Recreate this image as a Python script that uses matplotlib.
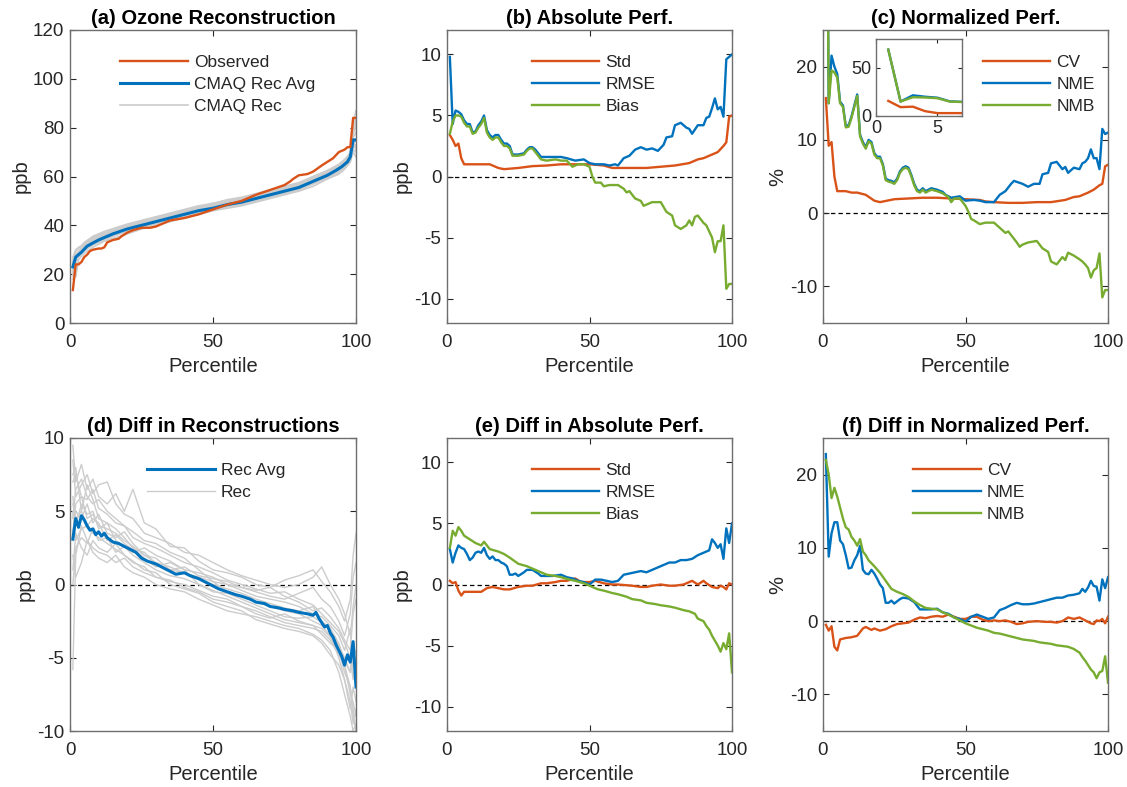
import numpy as np
import matplotlib
matplotlib.use("Agg")
import matplotlib.pyplot as plt

plt.rcParams['font.family'] = ['Liberation Sans', 'DejaVu Sans']
plt.rcParams['axes.unicode_minus'] = False

ORANGE = '#D95319'
BLUE = '#0072BD'
GREEN = '#77AC30'
GRAY = '#CCCCCC'
AX = '#262626'

# ---- (a) ozone reconstruction ----
obs_x = [1, 2, 3, 4, 5, 6, 7, 8, 10, 11, 12, 13, 15, 17, 18, 20, 22, 25, 28, 30, 32, 35,
         40, 45, 50, 55, 60, 65, 70, 75, 77, 78, 80, 83, 85, 88, 90, 92, 94, 96, 97, 98, 99, 100]
obs_y = [13.5, 24, 24, 25, 27, 28, 29.5, 30, 30.5, 30.5, 31, 33, 34, 34.5, 35.5, 37, 38, 39, 39, 39.5, 40.5, 42,
         43, 44.5, 46.5, 48.5, 50, 52.5, 54.5, 56.5, 58, 59, 60.5, 61, 62, 64.5, 66, 67.5, 70, 71, 72, 72, 84, 84]
avg_x = [1, 2, 4, 6, 10, 15, 20, 25, 30, 35, 40, 45, 50, 55, 60, 65, 70, 75, 80, 85, 90, 93, 95, 97, 98, 99, 100]
avg_y = [23, 27, 29, 31.5, 34, 36.5, 38.5, 40, 41.5, 43, 44.5, 46, 47, 48.5, 49.5, 51, 52.5, 54, 55.5, 58, 60.5,
         62.5, 64, 66, 68, 75, 75]
rec_x = [1, 2, 3, 5, 8, 12, 16, 20, 25, 30, 35, 40, 45, 50, 55, 60, 65, 70, 75, 80, 85, 90, 94, 96, 98, 99, 100]
rec_lines = [
    [18, 19, 26, 28.5, 31, 33.5, 35, 36.5, 38.5, 40, 41.5, 43, 44.5, 46, 47, 48, 49.5, 51, 52.5, 54, 56, 59, 61,
     63, 66, 70, 68],
    [25, 29.5, 30.5, 33, 35.5, 37.5, 39, 40.5, 42, 43.5, 45, 46.5, 48, 49, 50.5, 51.5, 53, 54.5, 56, 57.5, 60,
     62.5, 65, 67, 69.5, 82, 87],
    [22, 26, 28.5, 31, 33.5, 35.5, 37.5, 39, 40.5, 42, 43.5, 45, 46.5, 47.5, 49, 50, 51.5, 53, 54.5, 56, 58.5,
     61, 63, 65, 67.5, 76, 78],
    [24, 28, 29, 30, 32, 34, 36, 37.5, 39, 40.5, 42, 43.5, 45, 46.5, 47.5, 48.5, 50, 51.5, 53, 54.5, 57, 59.5,
     61.5, 63.5, 66, 72, 73],
    [21, 27, 28, 32, 34.5, 36.5, 38.5, 40, 41.5, 43, 44.5, 46, 47.5, 48.5, 49.5, 50.5, 52, 53.5, 55, 56.5, 59,
     61.5, 64, 66, 70, 78, 80],
    [26, 28, 29.5, 31, 33, 35, 37, 38.5, 40, 41.5, 43, 44.5, 46, 47.5, 48.5, 49.5, 51, 52.5, 54, 55.5, 58, 60.5,
     63, 65, 67, 73, 75],
    [20, 25, 27, 29.5, 32, 34.5, 36, 37.5, 39.5, 41, 42.5, 44, 45.5, 46.5, 48, 49, 50.5, 52, 53.5, 55, 57, 59.5,
     62, 64, 68, 74, 71],
    [23, 28, 29, 32.5, 35, 37, 38.5, 40, 41.5, 43, 44.5, 46, 47.5, 49, 50, 51, 52.5, 54, 55.5, 57, 59.5, 62,
     64.5, 66.5, 68.5, 80, 84],
    [19, 24, 28, 30, 33, 35, 37, 39, 40.5, 42, 43.5, 45.5, 47, 48, 49.5, 50.5, 52, 53, 54.5, 56, 58, 60.5, 62.5,
     64, 67, 71, 70],
    [27, 30, 31, 32, 34, 36, 38, 39.5, 41, 42.5, 44, 45.5, 47, 48.5, 49.5, 51, 52.5, 54, 55.5, 57, 59, 61.5, 64,
     65.5, 68, 77, 82],
]

# ---- (b) absolute performance ----
std_x = [1, 2, 3, 4, 5, 6, 8, 10, 15, 18, 20, 25, 30, 35, 40, 45, 50, 55, 58, 60, 65, 70, 75, 80, 85, 88,
         90, 93, 95, 97, 98, 99, 100]
std_y = [3.4, 3.0, 2.5, 2.7, 1.5, 1.0, 1.0, 1.0, 1.0, 0.7, 0.6, 0.7, 0.85, 0.9, 1.0, 1.0, 1.0, 0.9, 0.7, 0.7,
         0.7, 0.7, 0.8, 0.9, 1.1, 1.4, 1.5, 1.8, 2.0, 2.5, 2.8, 4.9, 5.0]
rmse_x = [1, 2, 3, 4, 5, 6, 7, 8, 9, 10, 11, 12, 13, 14, 15, 16, 17, 18, 19, 20, 21, 22, 23, 25, 27, 28, 29,
          30, 31, 33, 35, 38, 40, 42, 45, 48, 50, 52, 55, 57, 59, 60, 62, 64, 66, 68, 70, 72, 74, 76, 77, 79,
          80, 82, 84, 85, 86, 88, 90, 91, 92, 93, 94, 95, 96, 97, 98, 99, 100]
rmse_y = [9.8, 4.3, 5.4, 5.3, 5.1, 4.6, 4.3, 4.3, 3.6, 3.7, 4.2, 4.5, 5.0, 3.8, 3.4, 3.2, 3.4, 3.4, 3.0, 2.7,
          2.7, 2.5, 1.8, 1.8, 1.9, 2.2, 2.4, 2.4, 2.2, 1.6, 1.6, 1.6, 1.6, 1.5, 1.3, 1.4, 1.1, 1.0, 1.0, 0.9,
          1.0, 0.9, 1.5, 1.7, 2.2, 2.4, 2.2, 2.3, 2.1, 2.6, 3.2, 3.3, 4.2, 4.4, 4.0, 3.9, 3.5, 4.2, 4.2, 4.8,
          4.9, 5.6, 6.4, 5.5, 5.7, 4.9, 9.6, 9.8, 10.0]
bias_x = [1, 2, 3, 4, 5, 6, 7, 8, 9, 10, 11, 12, 13, 14, 15, 16, 17, 18, 19, 20, 21, 22, 23, 25, 27, 28, 29,
          30, 31, 33, 35, 38, 40, 42, 44, 46, 48, 50, 51, 52, 54, 55, 57, 60, 62, 63, 64, 66, 68, 69, 70, 72,
          75, 77, 79, 80, 82, 84, 85, 86, 87, 88, 90, 91, 92, 93, 94, 95, 96, 97, 98, 99, 100]
bias_y = [3.5, 4.5, 5.0, 5.0, 4.9, 4.4, 4.1, 4.1, 3.5, 3.6, 4.0, 4.3, 4.8, 3.6, 3.2, 3.0, 3.2, 3.2, 2.8, 2.5,
          2.5, 2.3, 1.7, 1.7, 1.8, 2.1, 2.3, 2.3, 2.0, 1.4, 1.3, 1.4, 1.3, 1.3, 0.8, 1.0, 1.0, 0.8, 0.0, -0.5,
          -0.5, -0.8, -0.7, -0.7, -1.0, -1.3, -1.2, -1.8, -2.0, -2.4, -2.3, -2.1, -2.1, -2.9, -3.2, -4.0, -4.3,
          -4.0, -3.6, -4.0, -3.3, -3.2, -3.8, -4.0, -4.5, -5.0, -6.2, -5.3, -5.3, -4.0, -9.2, -8.8, -8.8]

# ---- (c) normalized performance ----
cv_x = [1, 2, 3, 4, 5, 8, 10, 12, 15, 18, 20, 25, 30, 35, 40, 45, 50, 55, 57, 60, 65, 70, 75, 80, 85, 88, 90,
        93, 95, 97, 98, 99, 100]
cv_y = [15.7, 9.2, 9.7, 5.0, 3.0, 3.0, 2.8, 2.8, 2.5, 1.7, 1.5, 1.9, 2.0, 2.1, 2.1, 2.0, 1.9, 1.8, 1.6, 1.5,
        1.4, 1.4, 1.5, 1.5, 1.8, 2.2, 2.3, 2.8, 3.2, 3.8, 4.0, 6.4, 6.6]
nme_x = [1, 2, 3, 4, 5, 6, 7, 8, 9, 10, 11, 12, 13, 14, 15, 16, 17, 18, 19, 20, 21, 22, 23, 24, 25, 26, 27,
         28, 29, 30, 31, 32, 33, 34, 35, 36, 38, 40, 42, 43, 45, 48, 50, 53, 55, 57, 60, 62, 64, 66, 67, 70,
         72, 74, 76, 77, 79, 80, 82, 84, 85, 86, 88, 90, 91, 92, 93, 94, 95, 96, 97, 98, 99, 100]
nme_y = [69, 15, 21.5, 20, 19, 15.2, 14.7, 11.9, 12.0, 13.2, 14.7, 16.2, 10.7, 9.7, 9.0, 10.0, 9.7, 8.2, 7.7,
         7.7, 6.7, 4.7, 4.5, 4.4, 4.2, 4.7, 5.7, 6.2, 6.4, 6.2, 5.2, 4.0, 3.2, 3.0, 3.4, 3.0, 3.4, 3.2, 2.9,
         2.5, 2.1, 2.3, 1.7, 1.8, 1.7, 1.5, 1.5, 2.5, 3.0, 4.0, 4.4, 4.0, 3.6, 4.0, 4.0, 5.3, 5.5, 6.8, 7.0,
         6.0, 6.3, 5.5, 6.2, 6.0, 6.8, 7.0, 7.5, 8.7, 7.5, 7.5, 6.0, 11.5, 10.8, 11.0]
nmb_x = [1, 2, 3, 4, 5, 6, 7, 8, 9, 10, 11, 12, 13, 14, 15, 16, 17, 18, 19, 20, 21, 22, 23, 24, 25, 26, 27,
         28, 29, 30, 31, 32, 33, 34, 35, 36, 38, 40, 42, 44, 45, 46, 48, 50, 51, 52, 53, 55, 57, 60, 62, 64,
         65, 67, 68, 69, 70, 72, 75, 77, 79, 80, 82, 84, 85, 86, 88, 90, 91, 92, 93, 94, 95, 96, 97, 98, 99, 100]
nmb_y = [69, 15, 19.5, 19.2, 18.5, 15, 14.5, 11.7, 11.8, 13, 14.5, 16, 10.5, 9.5, 8.8, 9.8, 9.5, 8.0, 7.5,
         7.5, 6.5, 4.5, 4.3, 4.2, 4.0, 4.5, 5.5, 6.0, 6.2, 6.0, 5.0, 3.8, 3.0, 2.8, 3.2, 2.8, 3.2, 3.0, 2.7,
         2.2, 1.5, 2.0, 2.0, 1.0, 0.2, -0.8, -1.0, -1.5, -1.3, -1.3, -2.0, -2.7, -2.5, -3.5, -4.0, -4.6, -4.3,
         -4.0, -3.8, -4.8, -5.3, -6.6, -7.0, -6.0, -6.4, -5.4, -5.8, -6.3, -6.6, -7.0, -7.5, -8.8, -7.8, -7.5,
         -5.5, -11.5, -10.5, -10.5]

# ---- (d) diff in reconstructions ----
davg_x = [1, 2, 3, 4, 5, 6, 7, 8, 9, 10, 11, 12, 13, 15, 17, 20, 23, 25, 27, 30, 33, 35, 37, 40, 42, 45, 48,
          50, 52, 55, 58, 60, 63, 65, 68, 70, 73, 75, 78, 80, 83, 85, 86, 87, 88, 89, 90, 91, 92, 93, 94, 95,
          96, 97, 98, 99, 100]
davg_y = [3.1, 4.5, 3.9, 4.7, 4.4, 4.0, 3.7, 3.8, 3.4, 3.6, 3.3, 3.5, 3.2, 2.9, 2.8, 2.5, 2.2, 1.8, 1.6, 1.4,
          1.1, 0.9, 0.7, 0.8, 0.6, 0.4, 0.1, -0.1, -0.3, -0.5, -0.7, -0.8, -1.0, -1.2, -1.3, -1.5, -1.6, -1.7,
          -1.8, -1.9, -2.0, -2.1, -1.9, -2.3, -2.6, -2.9, -2.8, -3.3, -3.6, -4.1, -4.5, -4.9, -5.5, -4.8, -5.3,
          -3.9, -7.0]
drec_x = [1, 2, 4, 6, 8, 10, 13, 16, 19, 22, 26, 30, 35, 40, 45, 50, 55, 60, 65, 70, 75, 80, 85, 88, 91, 94,
          96, 98, 99, 100]
drec_lines = [
    [9.5, 7.0, 8.2, 6.5, 7.2, 6.0, 5.5, 6.2, 5.0, 6.5, 4.2, 3.8, 2.6, 2.5, 1.6, 1.0, 0.8, 0.5, 0.0, -0.2, 0.3,
     0.6, 1.0, 0.2, -0.5, -1.5, -2.5, -1.0, 2.0, 3.5],
    [-5.8, 2.0, 4.0, 3.0, 2.5, 2.2, 2.0, 1.5, 1.8, 1.2, 0.8, 0.5, 0.3, -0.2, -0.5, -1.0, -1.2, -1.5, -2.0,
     -2.3, -2.0, -2.5, -2.8, -3.0, -3.6, -4.5, -5.5, -7.0, -9.0, -10.0],
    [7.0, 7.5, 6.0, 5.8, 6.5, 5.2, 4.8, 4.2, 4.0, 3.6, 3.0, 2.8, 2.2, 1.8, 1.0, 0.2, -0.5, -0.8, -1.2, -1.5,
     -1.8, -2.0, -2.5, -2.8, -3.5, -5.0, -6.5, -8.0, -9.5, -8.5],
    [3.0, 5.0, 4.5, 5.5, 4.2, 4.8, 3.5, 3.2, 3.6, 2.8, 2.0, 1.5, 1.2, 0.8, 0.4, 0.0, -0.3, -0.6, -1.0, -1.3,
     -1.6, -1.8, -1.5, -2.5, -3.0, -4.0, -5.2, -6.0, -4.0, -5.5],
    [1.0, 3.5, 2.5, 2.0, 3.0, 2.5, 2.2, 2.8, 2.0, 1.5, 1.2, 0.5, 0.2, 0.0, -0.4, -0.8, -1.0, -1.5, -1.8, -2.2,
     -2.6, -2.8, -3.0, -3.2, -3.8, -4.8, -5.5, -7.5, -8.0, -9.0],
    [6.0, 4.0, 5.5, 4.8, 5.0, 3.8, 4.2, 3.0, 2.6, 2.2, 2.5, 2.0, 1.6, 1.0, 0.8, 0.5, 0.0, -0.2, -0.5, -0.8,
     -1.0, -0.6, -0.2, -1.0, -1.5, -2.5, -3.5, -2.0, 0.5, 1.5],
    [4.5, 6.5, 7.2, 6.0, 5.5, 5.8, 5.0, 4.5, 4.0, 3.2, 2.8, 2.5, 2.0, 1.5, 1.2, 0.8, 0.3, 0.0, -0.3, -0.6,
     -0.5, -1.0, -1.4, -2.0, -2.6, -3.2, -4.0, -5.0, -6.5, -6.0],
    [2.0, 0.5, 1.5, 3.0, 2.2, 1.8, 1.5, 2.0, 1.2, 0.8, 0.5, 0.0, -0.3, -0.5, -1.0, -1.4, -1.8, -2.0, -2.2,
     -2.5, -2.8, -3.0, -3.4, -3.8, -4.5, -6.0, -7.5, -9.0, -10.0, -9.5],
    [8.5, 6.0, 6.8, 7.5, 6.2, 6.8, 7.0, 5.5, 4.8, 4.5, 3.5, 3.2, 2.8, 2.2, 2.0, 1.5, 1.0, 0.6, 0.3, 0.0, -0.2,
     0.0, 0.5, 1.2, 0.0, -1.0, -2.0, -3.5, -1.5, 0.0],
    [5.0, 3.0, 3.8, 4.0, 3.5, 3.2, 2.8, 2.4, 2.0, 1.6, 1.0, 0.8, 0.0, -0.3, -0.6, -1.2, -1.5, -1.8, -2.4, -2.7,
     -3.0, -3.2, -3.5, -4.0, -4.8, -5.5, -6.5, -8.5, -7.0, -8.0],
    [3.5, 5.5, 6.0, 4.5, 4.8, 4.0, 3.8, 3.5, 3.0, 2.6, 2.0, 1.8, 1.0, 0.8, 0.5, 0.2, 0.0, -0.4, -0.8, -1.0,
     -1.2, -1.5, -2.0, -2.2, -2.8, -3.5, -4.5, -3.0, -6.0, -7.0],
    [7.5, 8.0, 5.0, 6.8, 5.8, 4.5, 4.2, 3.8, 3.2, 2.5, 1.8, 1.2, 1.5, 1.0, 0.0, -0.5, -0.6, -1.0, -1.4, -1.8,
     -2.2, -2.3, -2.2, -2.6, -3.0, -4.2, -5.0, -6.0, -5.0, -4.5],
    [0.0, 2.5, 3.2, 2.8, 3.8, 3.0, 3.2, 2.2, 2.6, 2.0, 1.5, 1.0, 0.6, 0.4, 0.0, -0.4, -0.8, -1.2, -1.6, -2.0,
     -2.4, -2.6, -2.8, -3.4, -4.0, -4.5, -6.0, -7.0, -8.5, -10.0],
    [5.5, 4.5, 5.0, 4.0, 4.5, 4.2, 3.0, 3.4, 2.8, 2.4, 2.2, 1.4, 1.0, 1.2, 0.6, 0.4, 0.2, -0.2, -0.4, -0.2,
     -0.8, -1.2, -1.8, -1.6, -2.2, -3.0, -3.8, -4.5, -2.0, -1.0],
]

# ---- (e) diff in absolute performance ----
estd_x = [1, 2, 3, 4, 5, 6, 8, 10, 12, 14, 16, 18, 20, 22, 25, 28, 30, 33, 35, 38, 40, 42, 45, 47, 50, 52, 55,
          58, 60, 65, 68, 70, 72, 75, 78, 80, 83, 85, 86, 88, 90, 91, 93, 95, 96, 97, 98, 99, 100]
estd_y = [0.3, 0.1, 0.2, -0.5, -0.9, -0.6, -0.6, -0.6, -0.6, -0.3, -0.2, -0.3, -0.4, -0.4, -0.2, -0.1, -0.1,
          0.1, 0.1, 0.2, 0.3, 0.3, 0.5, 0.2, 0.2, 0.3, 0.1, 0.0, 0.0, -0.1, -0.2, -0.2, -0.1, 0.0, -0.1, -0.1,
          0.0, 0.2, 0.3, 0.0, 0.3, 0.1, -0.2, -0.3, -0.1, -0.2, -0.4, 0.1, 0.0]
ermse_x = [1, 2, 3, 4, 5, 6, 7, 8, 9, 10, 11, 12, 13, 14, 15, 16, 17, 18, 19, 20, 21, 22, 23, 24, 25, 27, 28,
           30, 32, 33, 35, 37, 40, 42, 44, 46, 48, 50, 52, 54, 56, 58, 60, 62, 64, 66, 68, 70, 72, 74, 76, 78,
           80, 82, 84, 86, 88, 90, 92, 93, 94, 95, 96, 97, 98, 99, 100]
ermse_y = [2.9, 1.8, 2.6, 3.2, 3.0, 2.9, 2.5, 2.0, 2.2, 2.6, 2.7, 2.6, 3.0, 2.4, 2.1, 2.3, 2.0, 2.0, 1.8, 1.7,
           1.5, 0.8, 0.8, 0.9, 0.7, 1.0, 1.2, 1.2, 0.9, 0.7, 0.7, 0.7, 0.8, 0.6, 0.5, 0.3, 0.2, 0.0, 0.4, 0.4,
           0.3, 0.2, 0.3, 0.8, 0.9, 1.0, 1.1, 1.0, 1.2, 1.4, 1.6, 1.8, 1.8, 2.0, 2.0, 2.1, 2.4, 2.6, 2.8, 3.7,
           3.4, 3.0, 3.3, 2.1, 4.6, 3.4, 5.0]
ebias_x = [1, 2, 3, 4, 5, 6, 8, 10, 12, 13, 15, 18, 20, 22, 25, 28, 30, 33, 35, 38, 40, 43, 45, 48, 50, 53, 55,
           58, 60, 63, 65, 68, 70, 73, 75, 78, 80, 83, 85, 87, 88, 90, 91, 92, 93, 94, 95, 96, 97, 98, 99, 100]
ebias_y = [3.0, 4.4, 4.0, 4.7, 4.4, 4.0, 3.7, 3.4, 3.2, 3.5, 2.9, 2.7, 2.5, 2.2, 1.7, 1.5, 1.3, 1.0, 0.8, 0.7,
           0.6, 0.4, 0.3, 0.1, -0.1, -0.4, -0.5, -0.7, -0.8, -1.0, -1.2, -1.3, -1.5, -1.6, -1.7, -1.8, -1.9,
           -2.1, -2.2, -2.4, -2.8, -3.0, -3.4, -3.7, -4.2, -4.6, -5.0, -5.5, -4.8, -5.3, -4.0, -7.2]

# ---- (f) diff in normalized performance ----
fcv_x = [1, 2, 3, 4, 5, 6, 8, 10, 12, 14, 15, 17, 18, 20, 22, 24, 26, 28, 30, 32, 34, 36, 38, 40, 42, 44, 46,
         48, 50, 52, 54, 56, 58, 60, 62, 64, 66, 68, 70, 72, 75, 78, 80, 82, 84, 86, 88, 90, 92, 94, 95, 96, 97,
         98, 99, 100]
fcv_y = [-0.5, -1.3, -0.7, -3.5, -4.0, -2.5, -2.3, -2.2, -2.0, -1.0, -0.8, -1.2, -1.0, -1.3, -1.1, -0.7, -0.4,
         -0.3, -0.2, 0.2, 0.5, 0.4, 0.6, 0.7, 0.6, 0.9, 0.6, 0.3, 0.3, 0.6, 0.6, 0.2, 0.0, 0.1, 0.0, 0.1, -0.1,
         -0.4, -0.3, -0.1, 0.0, -0.1, -0.1, -0.2, 0.0, 0.5, 0.3, 0.5, 0.1, -0.3, -0.4, 0.1, 0.0, 0.3, -0.3, 0.6]
fnme_x = [1, 2, 3, 4, 5, 6, 7, 8, 9, 10, 11, 12, 13, 14, 15, 16, 17, 18, 19, 20, 21, 22, 23, 24, 25, 26, 27,
          28, 30, 32, 34, 36, 38, 40, 42, 44, 46, 48, 50, 52, 54, 56, 58, 60, 62, 64, 66, 68, 70, 72, 74, 76,
          78, 80, 82, 84, 86, 88, 90, 91, 92, 93, 94, 95, 96, 97, 98, 99, 100]
fnme_y = [22.8, 8.8, 12.0, 13.5, 13.5, 11.0, 10.5, 9.0, 7.2, 7.3, 8.3, 9.0, 10.3, 7.0, 6.5, 6.4, 7.0, 6.5,
          5.8, 5.0, 4.5, 2.5, 2.5, 2.8, 2.4, 2.7, 3.0, 3.2, 3.1, 2.6, 1.6, 1.6, 1.6, 1.7, 1.2, 1.0, 0.5, 0.3,
          -0.1, 0.6, 0.9, 0.6, 0.3, 0.5, 1.5, 1.8, 2.2, 2.5, 2.3, 2.3, 2.4, 2.6, 2.8, 3.0, 3.2, 3.2, 3.5, 3.6,
          3.8, 4.4, 4.0, 4.6, 5.5, 4.8, 4.7, 2.8, 5.7, 4.5, 6.0]
fnmb_x = [1, 2, 3, 4, 5, 6, 7, 8, 9, 10, 11, 12, 13, 14, 15, 16, 18, 20, 22, 24, 26, 28, 30, 32, 34, 36, 38,
          40, 42, 44, 46, 48, 50, 52, 54, 56, 58, 60, 62, 64, 66, 68, 70, 72, 74, 76, 78, 80, 82, 84, 86, 88,
          90, 91, 92, 93, 94, 95, 96, 97, 98, 99, 100]
fnmb_y = [22.0, 20.0, 16.8, 18.2, 17.0, 15.5, 14.0, 12.8, 12.5, 11.5, 11.0, 10.3, 11.2, 9.5, 9.0, 8.3, 7.5,
          6.6, 5.5, 4.4, 4.0, 3.7, 3.3, 2.7, 2.2, 1.8, 1.7, 1.6, 1.2, 0.9, 0.5, 0.1, -0.3, -0.6, -0.9, -1.1,
          -1.3, -1.6, -1.7, -1.9, -2.1, -2.3, -2.5, -2.6, -2.7, -2.9, -3.0, -3.1, -3.3, -3.4, -3.5, -3.8, -4.3,
          -4.9, -5.4, -6.0, -6.6, -7.0, -7.8, -7.0, -6.8, -4.8, -8.4]

LW = 1.7


def style(ax, ylim, yticks, title, ylabel):
    ax.set_xlim(0, 100)
    ax.set_ylim(*ylim)
    ax.set_xticks([0, 50, 100])
    ax.set_yticks(yticks)
    ax.tick_params(direction='in', length=4, width=0.8, colors=AX, labelsize=13.5,
                   top=True, right=True, pad=4)
    ax.tick_params(axis='x', pad=8)
    for s in ax.spines.values():
        s.set_color('#6E6E6E')
        s.set_linewidth(1.0)
    ax.set_title(title, fontsize=14.5, fontweight='bold', color='black', pad=4)
    ax.set_xlabel('Percentile', fontsize=14.5, color=AX, labelpad=4)
    ax.set_ylabel(ylabel, fontsize=14.5, color=AX, labelpad=2)


def zero_line(ax):
    ax.axhline(0, color='black', lw=0.9, ls=(0, (3.5, 2.5)), zorder=1)


def legend(ax, x, y, handles=None, labels=None):
    kw = dict(loc='upper left', bbox_to_anchor=(x, y), frameon=False, fontsize=12.5,
              handlelength=3.9, handletextpad=0.35, borderpad=0, borderaxespad=0,
              labelspacing=0.4, labelcolor=AX)
    if handles is None:
        ax.legend(**kw)
    else:
        ax.legend(handles, labels, **kw)


fig = plt.figure(figsize=(11.27, 7.87), dpi=100)
W, H = 1127, 787


def add_axes(l, t, r, b):
    return fig.add_axes([l / W, 1 - b / H, (r - l) / W, (b - t) / H])


ax_a = add_axes(70, 30, 356, 323)
ax_b = add_axes(447, 30, 732, 323)
ax_c = add_axes(823, 30, 1108, 323)
ax_d = add_axes(70, 438, 356, 731)
ax_e = add_axes(447, 438, 732, 731)
ax_f = add_axes(823, 438, 1108, 731)

# (a)
for i, r in enumerate(rec_lines):
    ax_a.plot(rec_x, r, color=GRAY, lw=1.2, label='CMAQ Rec' if i == 0 else None, zorder=2)
ax_a.plot(obs_x, obs_y, color=ORANGE, lw=LW, label='Observed', zorder=4)
ax_a.plot(avg_x, avg_y, color=BLUE, lw=2.2, label='CMAQ Rec Avg', zorder=3)
h, l = ax_a.get_legend_handles_labels()
order = [l.index('Observed'), l.index('CMAQ Rec Avg'), l.index('CMAQ Rec')]
style(ax_a, (0, 120), range(0, 121, 20), '(a) Ozone Reconstruction', 'ppb')
legend(ax_a, 0.175, 0.915, [h[i] for i in order], [l[i] for i in order])

# (b)
zero_line(ax_b)
ax_b.plot(std_x, std_y, color=ORANGE, lw=LW, label='Std')
ax_b.plot(rmse_x, rmse_y, color=BLUE, lw=LW, label='RMSE')
ax_b.plot(bias_x, bias_y, color=GREEN, lw=LW, label='Bias')
style(ax_b, (-12, 12), [-10, -5, 0, 5, 10], '(b) Absolute Perf.', 'ppb')
legend(ax_b, 0.297, 0.915)

# (c)
zero_line(ax_c)
ax_c.plot(cv_x, cv_y, color=ORANGE, lw=LW, label='CV')
ax_c.plot(nme_x, nme_y, color=BLUE, lw=LW, label='NME')
ax_c.plot(nmb_x, nmb_y, color=GREEN, lw=LW, label='NMB')
style(ax_c, (-15, 25), [-10, 0, 10, 20], '(c) Normalized Perf.', '%')
legend(ax_c, 0.56, 0.915)

ins = fig.add_axes([876 / W, 1 - 116 / H, 86 / W, 77 / H])
ins.plot(cv_x, cv_y, color=ORANGE, lw=LW)
ins.plot(nme_x, nme_y, color=BLUE, lw=LW)
ins.plot(nmb_x, nmb_y, color=GREEN, lw=LW)
ins.set_xlim(0, 7)
ins.set_ylim(0, 80)
ins.set_xticks([0, 5])
ins.set_yticks([0, 50])
ins.tick_params(direction='in', length=3, width=0.8, colors=AX, labelsize=13,
                top=True, right=True, pad=3)
for s in ins.spines.values():
    s.set_color('#6E6E6E')
    s.set_linewidth(1.0)

# (d)
zero_line(ax_d)
for i, r in enumerate(drec_lines):
    ax_d.plot(drec_x, r, color=GRAY, lw=1.0, label='Rec' if i == 0 else None, zorder=2)
ax_d.plot(davg_x, davg_y, color=BLUE, lw=2.2, label='Rec Avg', zorder=3)
h, l = ax_d.get_legend_handles_labels()
style(ax_d, (-10, 10), [-10, -5, 0, 5, 10], '(d) Diff in Reconstructions', 'ppb')
legend(ax_d, 0.27, 0.915, [h[1], h[0]], [l[1], l[0]])

# (e)
zero_line(ax_e)
ax_e.plot(estd_x, estd_y, color=ORANGE, lw=LW, label='Std')
ax_e.plot(ermse_x, ermse_y, color=BLUE, lw=LW, label='RMSE')
ax_e.plot(ebias_x, ebias_y, color=GREEN, lw=LW, label='Bias')
style(ax_e, (-12, 12), [-10, -5, 0, 5, 10], '(e) Diff in Absolute Perf.', 'ppb')
legend(ax_e, 0.297, 0.915)

# (f)
zero_line(ax_f)
ax_f.plot(fcv_x, fcv_y, color=ORANGE, lw=LW, label='CV')
ax_f.plot(fnme_x, fnme_y, color=BLUE, lw=LW, label='NME')
ax_f.plot(fnmb_x, fnmb_y, color=GREEN, lw=LW, label='NMB')
style(ax_f, (-15, 25), [-10, 0, 10, 20], '(f) Diff in Normalized Perf.', '%')
legend(ax_f, 0.316, 0.915)

fig.savefig('out.png', dpi=100)
